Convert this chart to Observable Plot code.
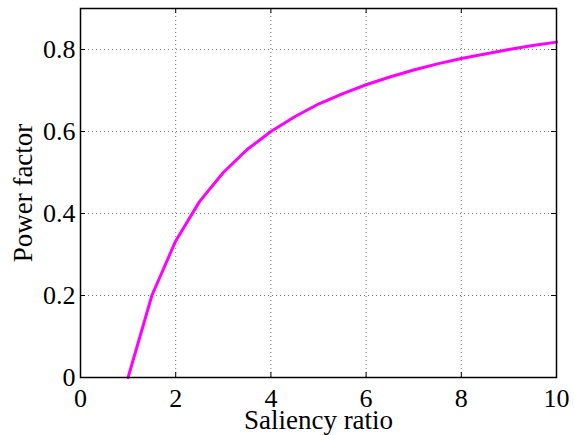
<!DOCTYPE html>
<html>
<head>
<meta charset="utf-8">
<script src="https://cdn.jsdelivr.net/npm/d3@7"></script>
<script src="https://cdn.jsdelivr.net/npm/@observablehq/plot@0.6"></script>
<style>
  html, body { margin: 0; padding: 0; background: #fff; }
</style>
</head>
<body>
<div id="chart"></div>
<script>
const saliencyRatio = [1, 1.5, 2, 2.5, 3, 3.5, 4, 4.5, 5, 5.5, 6, 6.5, 7, 7.5, 8, 8.5, 9, 9.5, 10];
const powerFactor = [0, 0.2, 0.333, 0.429, 0.5, 0.556, 0.6, 0.636, 0.667, 0.692, 0.714, 0.733, 0.75, 0.765, 0.778, 0.789, 0.8, 0.81, 0.818];
const xTicks = [0, 2, 4, 6, 8, 10];
const yTicks = [0, 0.2, 0.4, 0.6, 0.8];
const xLabel = "Saliency ratio";
const yLabel = "Power factor";

const W = 574, H = 435;
const mL = 80, mR = 18, mT = 8, mB = 58;
const plotH = H - mT - mB, plotW = W - mL - mR;
const tickLen = 5;

const data = saliencyRatio.map((x, i) => ({x, y: powerFactor[i]}));

const chart = Plot.plot({
  width: W,
  height: H,
  marginLeft: mL,
  marginRight: mR,
  marginTop: mT,
  marginBottom: mB,
  style: {fontFamily: "'Liberation Serif', 'Times New Roman', serif", fontSize: "26px", background: "#fff", color: "#000"},
  x: {domain: [0, 10]},
  y: {domain: [0, 0.9]},
  marks: [
    Plot.gridX(xTicks.slice(1, -1), {stroke: "#777", strokeOpacity: 1, strokeWidth: 1, strokeDasharray: "1,3"}),
    Plot.gridY(yTicks.slice(1), {stroke: "#777", strokeOpacity: 1, strokeWidth: 1, strokeDasharray: "1,3"}),
    Plot.tickX(xTicks, {x: d => d, insetTop: plotH - tickLen, stroke: "#000", strokeWidth: 1}),
    Plot.tickX(xTicks, {x: d => d, insetBottom: plotH - tickLen, stroke: "#000", strokeWidth: 1}),
    Plot.tickY(yTicks, {y: d => d, insetRight: plotW - tickLen, stroke: "#000", strokeWidth: 1}),
    Plot.tickY(yTicks, {y: d => d, insetLeft: plotW - tickLen, stroke: "#000", strokeWidth: 1}),
    Plot.axisX({ticks: xTicks, tickSize: 0, tickPadding: 11, label: null, fontSize: 26, tickFormat: d => String(d)}),
    Plot.axisY({ticks: yTicks, tickSize: 0, tickPadding: 5, label: null, fontSize: 26, tickFormat: d => String(d)}),
    Plot.line(data, {x: "x", y: "y", stroke: "#ff00ff", strokeWidth: 3}),
    Plot.frame({stroke: "#000", strokeWidth: 1.5}),
    Plot.text([xLabel], {frameAnchor: "bottom", dy: 43, textAnchor: "middle", lineAnchor: "middle", fontSize: 27, fill: "#000"}),
    Plot.text([yLabel], {frameAnchor: "left", dx: -57, rotate: -90, textAnchor: "middle", lineAnchor: "middle", fontSize: 27, fill: "#000"})
  ]
});
document.getElementById("chart").appendChild(chart);
</script>
</body>
</html>
